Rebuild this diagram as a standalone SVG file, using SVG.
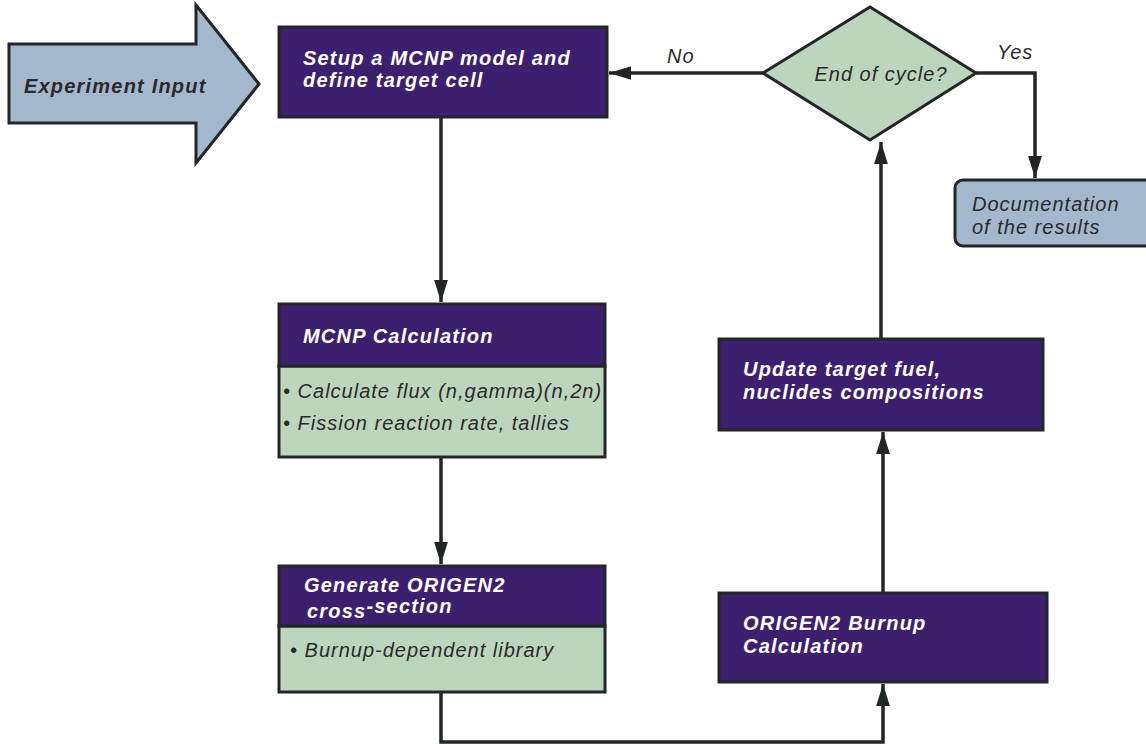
<svg xmlns="http://www.w3.org/2000/svg" width="1146" height="744" viewBox="0 0 1146 744">
<defs>
<style>
.ln{fill:none;stroke:#222628;stroke-width:3.5}
.pu{fill:#3d1f6f;stroke:#222628;stroke-width:3}
.gr{fill:#bcd6bd;stroke:#222628;stroke-width:3}
.bl{fill:#a3b8cc;stroke:#222628;stroke-width:3}
.wt{font-family:"Liberation Sans",Arial,sans-serif;font-style:italic;font-weight:bold;font-size:20px;letter-spacing:1.2px;fill:#ffffff}
.dk{font-family:"Liberation Sans",Arial,sans-serif;font-style:italic;font-size:20px;letter-spacing:1px;fill:#2a2a2a}
.dkb{font-family:"Liberation Sans",Arial,sans-serif;font-style:italic;font-weight:bold;font-size:20px;letter-spacing:1.2px;fill:#2a2a2a}
</style>
<marker id="ah" viewBox="0 0 16 10" refX="16" refY="5" markerWidth="6.4" markerHeight="4" markerUnits="strokeWidth" orient="auto">
<path d="M0,0 L16,5 L0,10 z" fill="#222628"/>
</marker>
</defs>
<rect width="1146" height="744" fill="#ffffff"/>
<g id="connectors">
<line class="ln" x1="441" y1="117" x2="441" y2="302" marker-end="url(#ah)"/>
<line class="ln" x1="441" y1="457" x2="441" y2="564" marker-end="url(#ah)"/>
<polyline class="ln" points="441,692 441,742 883,742 883,684" marker-end="url(#ah)"/>
<line class="ln" x1="883" y1="593" x2="883" y2="432" marker-end="url(#ah)"/>
<line class="ln" x1="881" y1="339" x2="881" y2="142" marker-end="url(#ah)"/>
<line class="ln" x1="763" y1="73" x2="609" y2="73" marker-end="url(#ah)"/>
<polyline class="ln" points="976,73 1035,73 1035,178" marker-end="url(#ah)"/>
<text class="dk" x="667" y="63">No</text>
<text class="dk" x="997" y="59">Yes</text>
</g>
<g id="experiment-input">
<polygon class="bl" points="9,44 196,44 196,5 259,84 196,163 196,123 9,123"/>
<text class="dkb" x="24" y="93">Experiment Input</text>
</g>
<g id="setup">
<rect class="pu" x="279" y="27" width="328" height="90"/>
<text class="wt" x="303" y="65">Setup a MCNP model and</text>
<text class="wt" x="303" y="87">define target cell</text>
</g>
<g id="mcnp">
<rect class="gr" x="279" y="366" width="326" height="91"/>
<rect class="pu" x="279" y="304" width="326" height="62"/>
<text class="wt" x="303" y="343">MCNP Calculation</text>
<text class="dk" x="283" y="398">• Calculate flux (n,gamma)(n,2n)</text>
<text class="dk" x="283" y="430">• Fission reaction rate, tallies</text>
</g>
<g id="generate">
<rect class="gr" x="279" y="626" width="326" height="66"/>
<rect class="pu" x="279" y="566" width="326" height="60"/>
<text class="wt" x="304" y="592">Generate ORIGEN2</text>
<text class="wt" x="307" y="618">cross<tspan dy="-5">-section</tspan></text>
<text class="dk" x="290" y="657">• Burnup-dependent library</text>
</g>
<g id="burnup">
<rect class="pu" x="719" y="593" width="328" height="89"/>
<text class="wt" x="743" y="630">ORIGEN2 Burnup</text>
<text class="wt" x="743" y="653">Calculation</text>
</g>
<g id="update">
<rect class="pu" x="719" y="339" width="324" height="91"/>
<text class="wt" x="743" y="376">Update target fuel,</text>
<text class="wt" x="743" y="399">nuclides compositions</text>
</g>
<g id="decision">
<polygon class="gr" points="763,73 870,7 976,73 870,140"/>
<text class="dk" x="881" y="81" text-anchor="middle">End of cycle?</text>
</g>
<g id="documentation">
<rect class="bl" x="955" y="180" width="200" height="66" rx="8"/>
<text class="dk" x="972" y="211">Documentation</text>
<text class="dk" x="972" y="234">of the results</text>
</g>
</svg>
